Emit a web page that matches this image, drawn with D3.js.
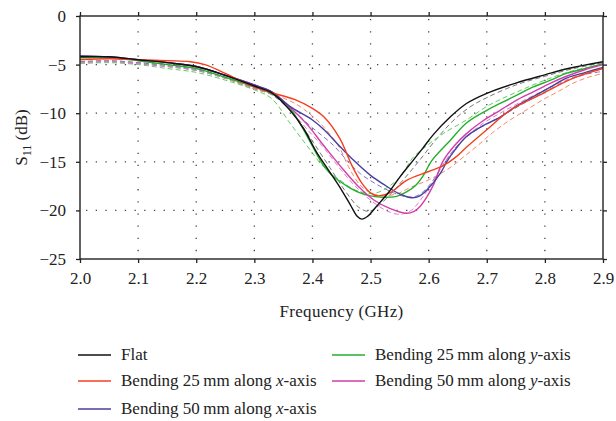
<!DOCTYPE html>
<html>
<head>
<meta charset="utf-8">
<script src="https://cdn.jsdelivr.net/npm/d3@7"></script>
<style>
  html, body { margin: 0; padding: 0; background: #fff; }
  svg { display: block; }
  svg text { font-family: "Liberation Serif", "Times New Roman", Times, "DejaVu Serif", serif; }
</style>
</head>
<body>
<svg id="chart" width="616" height="421"></svg>
<script>
// Frequency (GHz) ticks and S11 (dB) ticks
const xTicks = [2.0, 2.1, 2.2, 2.3, 2.4, 2.5, 2.6, 2.7, 2.8, 2.9];
const yTicks = [0, -5, -10, -15, -20, -25];

// Measured reflection curves: [frequency GHz, S11 dB]
const flatSolid = [[2.00,-4.2],[2.05,-4.2],[2.10,-4.5],[2.15,-4.8],[2.20,-5.2],[2.25,-6.1],[2.30,-7.2],[2.33,-7.9],[2.36,-9.6],[2.385,-11.6],[2.407,-14.0],[2.427,-15.8],[2.447,-17.6],[2.465,-19.4],[2.477,-20.6],[2.485,-20.9],[2.495,-20.6],[2.51,-19.6],[2.533,-18.0],[2.55,-16.6],[2.574,-14.8],[2.59,-13.6],[2.608,-12.2],[2.637,-10.4],[2.665,-9.0],[2.70,-7.95],[2.75,-6.9],[2.80,-6.05],[2.84,-5.4],[2.90,-4.7]];
const bendX25Solid = [[2.00,-4.5],[2.05,-4.4],[2.10,-4.5],[2.15,-4.6],[2.19,-4.7],[2.215,-5.0],[2.25,-5.9],[2.28,-6.8],[2.30,-7.3],[2.33,-7.9],[2.37,-8.6],[2.40,-9.5],[2.42,-10.4],[2.447,-12.6],[2.468,-15.4],[2.485,-17.2],[2.50,-18.2],[2.511,-18.5],[2.533,-18.2],[2.562,-16.9],[2.60,-16.0],[2.625,-15.4],[2.645,-14.6],[2.665,-13.5],[2.70,-11.7],[2.74,-9.7],[2.797,-7.95],[2.849,-6.4],[2.90,-5.4]];
const bendX50Solid = [[2.00,-4.1],[2.05,-4.2],[2.10,-4.5],[2.15,-4.8],[2.20,-5.2],[2.25,-6.1],[2.30,-7.1],[2.33,-7.8],[2.361,-9.3],[2.40,-10.7],[2.42,-11.7],[2.447,-13.4],[2.47,-14.8],[2.50,-16.4],[2.522,-17.3],[2.55,-18.3],[2.571,-18.7],[2.585,-18.5],[2.597,-17.9],[2.62,-16.2],[2.631,-15.0],[2.645,-13.8],[2.665,-12.4],[2.693,-11.3],[2.723,-10.4],[2.75,-9.3],[2.78,-8.3],[2.81,-7.3],[2.837,-6.4],[2.87,-5.8],[2.90,-5.3]];
const bendY25Solid = [[2.00,-4.3],[2.05,-4.3],[2.10,-4.6],[2.15,-5.0],[2.20,-5.4],[2.25,-6.3],[2.30,-7.3],[2.33,-8.0],[2.36,-9.4],[2.38,-11.2],[2.40,-13.4],[2.418,-15.3],[2.432,-16.3],[2.447,-17.0],[2.465,-17.7],[2.482,-18.2],[2.50,-18.5],[2.522,-18.65],[2.545,-18.55],[2.562,-18.1],[2.578,-17.4],[2.591,-16.4],[2.605,-14.9],[2.637,-12.8],[2.665,-11.0],[2.70,-9.7],[2.723,-9.0],[2.75,-8.2],[2.78,-7.3],[2.81,-6.6],[2.837,-5.9],[2.87,-5.4],[2.90,-4.9]];
const bendY50Solid = [[2.00,-4.1],[2.05,-4.2],[2.10,-4.5],[2.15,-4.8],[2.20,-5.2],[2.25,-6.1],[2.30,-7.1],[2.33,-7.8],[2.36,-9.3],[2.39,-11.1],[2.419,-13.3],[2.453,-15.8],[2.48,-17.6],[2.505,-18.9],[2.533,-19.8],[2.562,-20.3],[2.575,-20.1],[2.585,-19.6],[2.597,-18.6],[2.608,-17.4],[2.625,-14.9],[2.645,-13.3],[2.665,-12.1],[2.693,-10.8],[2.723,-9.7],[2.75,-8.7],[2.78,-7.8],[2.81,-6.9],[2.837,-6.2],[2.87,-5.5],[2.90,-5.0]];

// Simulated reflection curves: [frequency GHz, S11 dB]
const flatDashed = [[2.00,-4.8],[2.05,-4.7],[2.10,-4.9],[2.15,-5.2],[2.20,-5.6],[2.25,-6.4],[2.30,-7.5],[2.33,-8.1],[2.36,-9.6],[2.39,-12.0],[2.43,-15.6],[2.46,-18.3],[2.48,-19.7],[2.497,-20.1],[2.51,-19.7],[2.53,-18.6],[2.56,-16.6],[2.585,-14.8],[2.61,-12.9],[2.64,-10.9],[2.67,-9.4],[2.70,-8.4],[2.75,-7.1],[2.80,-6.2],[2.85,-5.4],[2.90,-4.8]];
const bendX25Dashed = [[2.00,-4.7],[2.05,-4.6],[2.10,-4.8],[2.15,-5.0],[2.20,-5.3],[2.25,-6.4],[2.30,-7.5],[2.33,-8.0],[2.37,-9.0],[2.40,-10.3],[2.425,-11.8],[2.447,-13.6],[2.462,-15.5],[2.482,-17.4],[2.50,-18.2],[2.522,-18.5],[2.545,-18.3],[2.57,-17.6],[2.602,-16.8],[2.637,-15.6],[2.66,-14.5],[2.683,-13.4],[2.71,-12.0],[2.74,-10.7],[2.77,-9.6],[2.797,-8.6],[2.825,-7.7],[2.849,-6.9],[2.875,-6.3],[2.90,-5.9]];
const bendX50Dashed = [[2.00,-4.7],[2.05,-4.6],[2.10,-4.8],[2.15,-5.1],[2.20,-5.5],[2.25,-6.3],[2.30,-7.4],[2.33,-8.0],[2.36,-9.4],[2.40,-11.5],[2.436,-13.3],[2.46,-14.9],[2.482,-16.2],[2.51,-17.3],[2.54,-18.2],[2.562,-18.6],[2.58,-18.5],[2.60,-17.5],[2.625,-15.3],[2.65,-13.3],[2.68,-11.8],[2.72,-10.5],[2.76,-9.1],[2.80,-7.8],[2.84,-6.6],[2.87,-6.0],[2.90,-5.7]];
const bendY25Dashed = [[2.00,-4.9],[2.05,-4.8],[2.10,-5.0],[2.15,-5.4],[2.20,-5.8],[2.25,-6.6],[2.30,-7.6],[2.33,-8.5],[2.361,-11.0],[2.39,-13.3],[2.419,-15.5],[2.45,-17.0],[2.47,-17.8],[2.49,-18.2],[2.51,-18.2],[2.53,-17.6],[2.55,-16.6],[2.574,-14.5],[2.60,-13.2],[2.625,-12.1],[2.665,-10.7],[2.70,-9.3],[2.723,-8.6],[2.76,-7.6],[2.80,-6.6],[2.85,-5.6],[2.90,-5.0]];
const bendY50Dashed = [[2.00,-4.8],[2.05,-4.7],[2.10,-4.9],[2.15,-5.2],[2.20,-5.6],[2.25,-6.4],[2.30,-7.4],[2.33,-8.1],[2.36,-9.6],[2.39,-11.6],[2.42,-13.6],[2.45,-15.9],[2.48,-17.9],[2.51,-19.4],[2.53,-20.1],[2.55,-20.4],[2.57,-20.0],[2.59,-18.6],[2.61,-16.8],[2.63,-14.8],[2.655,-13.0],[2.69,-11.2],[2.72,-10.1],[2.76,-8.8],[2.80,-7.6],[2.84,-6.5],[2.87,-5.9],[2.90,-5.4]];

// Series styling
const seriesStyles = [
  { data: flatDashed,    color: "#777777", dashed: true },
  { data: bendX25Dashed, color: "#f7876a", dashed: true },
  { data: bendX50Dashed, color: "#7d78c4", dashed: true },
  { data: bendY25Dashed, color: "#5fcc62", dashed: true },
  { data: bendY50Dashed, color: "#e07bc9", dashed: true },
  { data: bendY25Solid,  color: "#22b02c", dashed: false },
  { data: bendY50Solid,  color: "#d23ea9", dashed: false },
  { data: bendX50Solid,  color: "#483f9f", dashed: false },
  { data: bendX25Solid,  color: "#f2401f", dashed: false },
  { data: flatSolid,     color: "#111111", dashed: false }
];

const legendItems = [
  { parts: [["Flat", false]], color: "#111111", col: 0, row: 0 },
  { parts: [["Bending 25\u2009mm along ", false], ["x", true], ["-axis", false]], color: "#f2401f", col: 0, row: 1 },
  { parts: [["Bending 50\u2009mm along ", false], ["x", true], ["-axis", false]], color: "#483f9f", col: 0, row: 2 },
  { parts: [["Bending 25\u2009mm along ", false], ["y", true], ["-axis", false]], color: "#22b02c", col: 1, row: 0 },
  { parts: [["Bending 50\u2009mm along ", false], ["y", true], ["-axis", false]], color: "#d23ea9", col: 1, row: 1 }
];

const svg = d3.select("#chart");
const plotL = 80, plotR = 603, plotT = 16, plotB = 259;

const x = d3.scaleLinear().domain([2.0, 2.9]).range([plotL, plotR]);
const y = d3.scaleLinear().domain([0, -25]).range([plotT, plotB]);

// Dotted grid
const grid = svg.append("g");
grid.selectAll("line.v").data(xTicks.slice(1, -1)).join("line")
  .attr("x1", d => x(d)).attr("x2", d => x(d))
  .attr("y1", plotT + 3).attr("y2", plotB)
  .attr("stroke", "#444").attr("stroke-width", 1.3)
  .attr("stroke-dasharray", "1.3,10.85");
grid.selectAll("line.h").data(yTicks.slice(1, -1)).join("line")
  .attr("x1", plotL + 6).attr("x2", plotR)
  .attr("y1", d => y(d)).attr("y2", d => y(d))
  .attr("stroke", "#444").attr("stroke-width", 1.3)
  .attr("stroke-dasharray", "1.3,8.4");

// Curves
svg.append("clipPath").attr("id", "plotClip")
  .append("rect").attr("x", plotL).attr("y", plotT)
  .attr("width", plotR - plotL).attr("height", plotB - plotT);

const line = d3.line()
  .x(d => x(d[0])).y(d => y(d[1]))
  .curve(d3.curveCatmullRom.alpha(0.5));

const curves = svg.append("g").attr("clip-path", "url(#plotClip)");
curves.selectAll("path").data(seriesStyles).join("path")
  .attr("d", d => line(d.data))
  .attr("fill", "none")
  .attr("stroke", d => d.color)
  .attr("stroke-width", d => d.dashed ? 1.0 : 1.4)
  .attr("stroke-dasharray", d => d.dashed ? "5,3" : null);

// Axes on all four sides, ticks outward
const fmtX = d3.format(".1f");
const fmtY = d3.format("d");
const axisStyle = g => {
  g.select(".domain").remove();
  g.selectAll(".tick line").attr("stroke", "#222").attr("stroke-width", 1.3);
  g.selectAll(".tick text").attr("font-size", 17).attr("fill", "#222");
};
svg.append("g").attr("transform", `translate(0,${plotB})`)
  .call(d3.axisBottom(x).tickValues(xTicks).tickFormat(fmtX).tickSizeInner(4).tickSizeOuter(0).tickPadding(9))
  .call(axisStyle);
svg.append("g").attr("transform", `translate(0,${plotT})`)
  .call(d3.axisTop(x).tickValues(xTicks).tickFormat("").tickSizeInner(4).tickSizeOuter(0))
  .call(axisStyle);
svg.append("g").attr("transform", `translate(${plotL},0)`)
  .call(d3.axisLeft(y).tickValues(yTicks).tickFormat(fmtY).tickSizeInner(4).tickSizeOuter(0).tickPadding(10))
  .call(axisStyle);
svg.append("g").attr("transform", `translate(${plotR},0)`)
  .call(d3.axisRight(y).tickValues(yTicks).tickFormat("").tickSizeInner(4).tickSizeOuter(0))
  .call(axisStyle);

// Frame
svg.append("rect")
  .attr("x", plotL).attr("y", plotT)
  .attr("width", plotR - plotL).attr("height", plotB - plotT)
  .attr("fill", "none").attr("stroke", "#222").attr("stroke-width", 1.4);

// Axis titles
svg.append("text")
  .attr("x", (plotL + plotR) / 2).attr("y", 317)
  .attr("text-anchor", "middle").attr("font-size", 17).attr("fill", "#222")
  .attr("letter-spacing", 0.3)
  .text("Frequency (GHz)");

const yTitle = svg.append("text")
  .attr("transform", `translate(27,${(plotT + plotB) / 2}) rotate(-90)`)
  .attr("text-anchor", "middle").attr("font-size", 17).attr("fill", "#222");
yTitle.append("tspan").text("S");
yTitle.append("tspan").attr("font-size", 12).attr("dy", 4).text("11");
yTitle.append("tspan").attr("dy", -4).text(" (dB)");

// Legend
const colX = [78, 332];
const rowY = [355, 381, 409];
const legend = svg.append("g");
legendItems.forEach(item => {
  const lx = colX[item.col], ly = rowY[item.row];
  legend.append("line")
    .attr("x1", lx).attr("x2", lx + 33).attr("y1", ly).attr("y2", ly)
    .attr("stroke", item.color).attr("stroke-width", 1.4);
  const t = legend.append("text")
    .attr("x", lx + 43).attr("y", ly + 5)
    .attr("font-size", 17).attr("fill", "#222");
  item.parts.forEach(([s, it]) => {
    t.append("tspan").attr("font-style", it ? "italic" : "normal").text(s);
  });
});
</script>
</body>
</html>
